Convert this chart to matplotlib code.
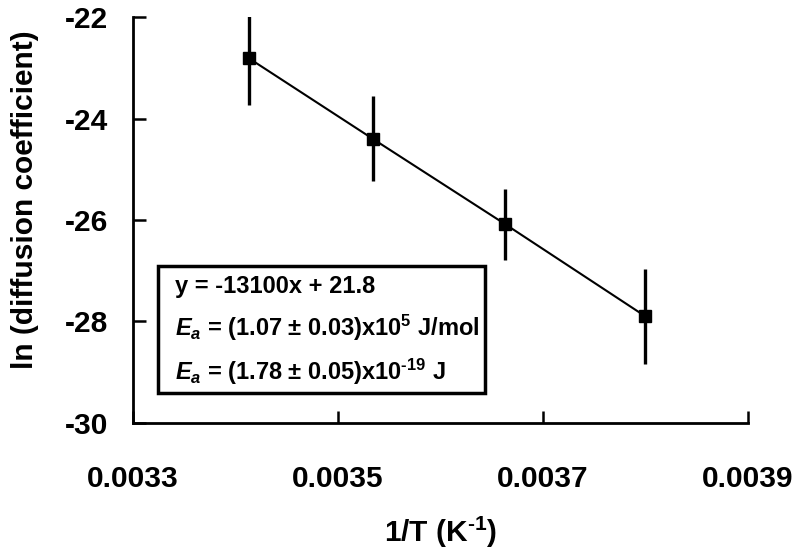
import matplotlib
matplotlib.use('Agg')
import matplotlib.pyplot as plt
from matplotlib.patches import Rectangle

matplotlib.rc('font', family='Liberation Sans', weight='bold', size=21.5)
matplotlib.rcParams['axes.labelweight'] = 'bold'
matplotlib.rcParams['axes.unicode_minus'] = False
matplotlib.rcParams['mathtext.fontset'] = 'custom'
matplotlib.rcParams['mathtext.rm'] = 'Liberation Sans:bold'
matplotlib.rcParams['mathtext.it'] = 'Liberation Sans:bold:italic'
matplotlib.rcParams['mathtext.bf'] = 'Liberation Sans:bold'
matplotlib.rcParams['mathtext.default'] = 'rm'

# 1/T values (K^-1) and ln(D) with error bars
inv_t = [0.003413, 0.003534, 0.003663, 0.003800]
ln_d = [-22.81, -24.40, -26.08, -27.90]
ln_d_err = [0.92, 0.84, 0.70, 0.93]

x_ticks = [0.0033, 0.0035, 0.0037, 0.0039]
x_tick_labels = ['0.0033', '0.0035', '0.0037', '0.0039']
y_ticks = [-30, -28, -26, -24, -22]

fit_lines = [
    'y = -13100x + 21.8',
    r'$\mathit{E_a}$ = (1.07 ± 0.03)x10$^{5}$ J/mol',
    r'$\mathit{E_a}$ = (1.78 ± 0.05)x10$^{\text{-}19}$ J',
]

fig = plt.figure(figsize=(8, 5.54), dpi=100)
ax = fig.add_axes([0.166, 0.2365, 0.769, 0.7328])

ax.errorbar(inv_t, ln_d, yerr=ln_d_err, fmt='s-', color='black', ecolor='black',
            markersize=9, linewidth=1.5, elinewidth=2.4, capsize=0)

ax.set_xlim(0.0033, 0.0039)
ax.set_ylim(-30, -22)
ax.set_xticks(x_ticks)
ax.set_xticklabels(x_tick_labels)
ax.set_yticks(y_ticks)
ax.tick_params(direction='in', length=9, width=1.8)
ax.tick_params(axis='x', pad=30)
ax.tick_params(axis='y', pad=18)
for side in ['top', 'right']:
    ax.spines[side].set_visible(False)
for side in ['left', 'bottom']:
    ax.spines[side].set_linewidth(2)

ax.set_xlabel('1/T (K$^{\\text{-}1}$)', labelpad=16)
ax.set_ylabel('ln (diffusion coefficient)')
ax.yaxis.set_label_coords(-0.152, 0.55)

# fit results box
ax.add_patch(Rectangle((0.041, 0.074), 0.532, 0.313, transform=ax.transAxes,
                       fill=False, edgecolor='black', linewidth=2.5))
for txt, yy in zip(fit_lines, [0.335, 0.234, 0.126]):
    ax.text(0.068, yy, txt, transform=ax.transAxes, fontsize=17,
            fontweight='bold', va='center', ha='left')

fig.savefig('out.png', dpi=100)
